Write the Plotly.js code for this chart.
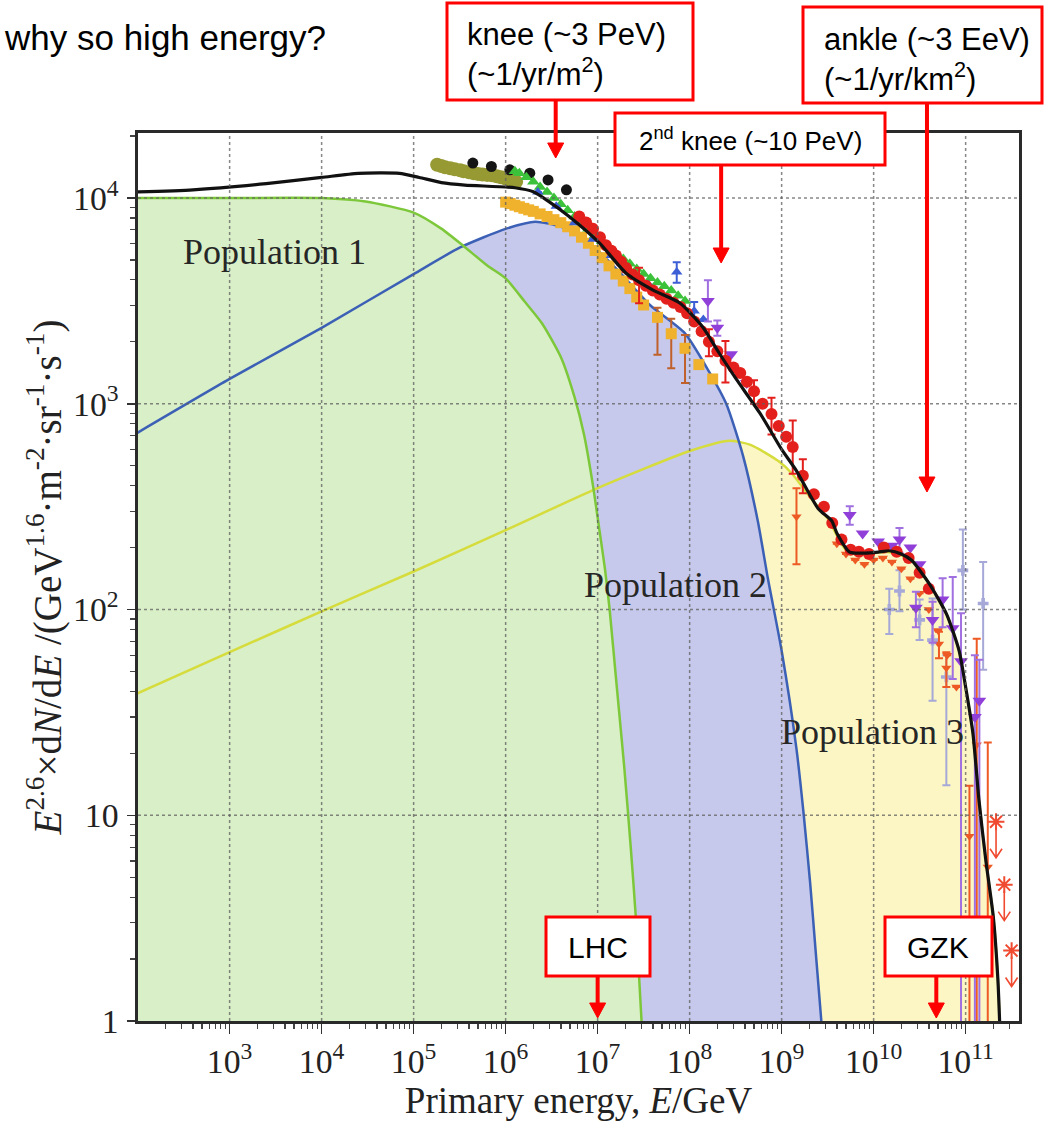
<!DOCTYPE html>
<html>
<head>
<meta charset="utf-8">
<script src="https://cdn.plot.ly/plotly-3.0.1.min.js"></script>
<style>html,body{margin:0;padding:0;background:#fff;}#chart{width:1048px;height:1123px;}</style>
</head>
<body>
<div id="chart"></div>
<script>
// ---------- model curves (E in GeV, flux = E^2.6 dN/dE) ----------
const pop1E = [98, 1e3, 1e4, 3e4, 1e5, 2e5, 3.4e5, 6.3e5, 1e6, 1.6e6, 2.5e6, 4e6, 5.6e6, 7.1e6, 8.9e6, 1.05e7, 1.2e7, 1.35e7, 1.6e7, 1.95e7, 2.3e7, 2.6e7, 3.0e7];
const pop1Y = [10000, 10000, 10000, 9620, 8500, 7100, 5900, 4700, 4070, 3150, 2450, 1680, 1080, 710, 400, 240, 158, 100, 44, 17, 6.8, 3.2, 1.0];

const pop2E = [98, 1e3, 1e4, 1e5, 3.2e5, 1e6, 2.1e6, 4e6, 7.4e6, 1.7e7, 3.7e7, 8.9e7, 1.6e8, 2.5e8, 3.8e8, 5.5e8, 7.1e8, 1e9, 1.45e9, 1.74e9, 2.04e9, 2.34e9, 2.7e9];
const pop2Y = [720, 1320, 2340, 4270, 5750, 7080, 7670, 7240, 6310, 4400, 3020, 2200, 1450, 1000, 560, 270, 141, 63, 21, 10, 4.7, 2.2, 1.0];

const pop3E = [98, 1e3, 1e4, 1e5, 1e6, 1e7, 1e8, 2.7e8, 4.6e8, 9.3e8, 1.3e9, 2e9, 3.2e9, 5e9, 8e9, 1.5e10, 2.6e10, 4e10, 6.2e10, 8.5e10, 1e11, 1.2e11, 1.4e11, 1.66e11, 2e11, 2.24e11, 2.34e11];
const pop3Y = [39, 62, 98, 153, 243, 389, 589, 661, 631, 525, 457, 355, 275, 195, 188, 190, 174, 134, 95, 63, 42, 25, 11.7, 6.0, 3.2, 1.6, 1.0];

const totalE = [98, 4e2, 2.5e3, 1e4, 2.5e4, 7e4, 1.15e5, 2e5, 3.6e5, 1.26e6, 2e6, 2.8e6, 4.9e6, 1.05e7, 2.04e7, 4e7, 7.8e7, 1.38e8, 2.1e8, 3.2e8, 5.9e8, 1e9, 1.45e9, 2.5e9, 3.5e9, 4e9, 5.5e9, 8e9, 1.12e10, 1.48e10, 2e10, 2.6e10, 4e10, 6.2e10, 8.5e10, 1e11, 1.2e11, 1.4e11, 1.66e11, 2e11, 2.24e11, 2.34e11];
const totalY = [10700, 10960, 11750, 12590, 13180, 13180, 12590, 11890, 11560, 11220, 10720, 9770, 8130, 6030, 4310, 3570, 3090, 2370, 1760, 1320, 890, 600, 472, 309, 270, 234, 190, 188, 190, 193, 186, 173, 134, 95, 63, 42, 25, 11.7, 6.0, 3.2, 1.6, 1.0];

// ---------- measurements ----------
const oliveE = [1.8e5, 2.0e5, 2.2e5, 2.5e5, 2.8e5, 3.2e5, 3.5e5, 4.0e5, 4.5e5, 5.0e5, 5.6e5, 6.3e5, 7.1e5, 8.0e5, 8.9e5, 1.0e6, 1.1e6, 1.2e6, 1.3e6];
const oliveY = [14500, 14300, 14100, 13950, 13800, 13650, 13500, 13350, 13200, 13100, 13000, 12950, 12900, 12750, 12600, 12450, 12300, 12150, 12000];

const blackE = [4.4e5, 7.0e5, 1.11e6, 1.83e6, 2.89e6, 4.58e6];
const blackY = [14790, 14230, 13710, 13210, 12250, 10960];

const greenE = [1.26e6, 1.41e6, 1.68e6, 2.0e6, 2.37e6, 2.82e6, 3.35e6, 3.98e6, 4.73e6, 5.62e6, 6.68e6, 7.94e6, 9.4e6, 1.12e7, 1.33e7, 1.58e7, 1.9e7, 2.24e7, 2.66e7, 3.16e7, 3.76e7, 4.47e7, 5.3e7, 6.31e7, 7.5e7, 8.91e7];
const greenY = [13500, 13200, 12600, 12000, 11300, 10700, 10000, 9330, 8710, 8130, 7600, 7080, 6600, 6170, 5750, 5370, 5060, 4790, 4520, 4270, 4070, 3890, 3720, 3550, 3350, 3160];

const orangeE = [1.0e6, 1.12e6, 1.26e6, 1.41e6, 1.58e6, 1.78e6, 2.0e6, 2.37e6, 2.82e6, 3.35e6, 3.98e6, 4.73e6, 5.62e6, 6.68e6, 7.94e6, 9.4e6, 1.12e7, 1.33e7, 1.58e7, 1.9e7, 2.24e7, 2.66e7, 3.16e7, 4.47e7, 6.31e7, 8.91e7, 1.26e8, 1.78e8];
const orangeY = [9550, 9400, 9230, 9070, 8910, 8760, 8610, 8370, 8130, 7850, 7590, 7250, 6920, 6450, 6030, 5560, 5130, 4680, 4270, 3950, 3630, 3300, 3020, 2630, 2190, 1860, 1550, 1320];
const orangeErrP = [0, 0, 0, 0, 0, 0, 0, 0, 0, 0, 0, 0, 0, 0, 0, 0, 0, 0, 0, 0, 0, 0, 0, 300, 400, 300, 0, 0];
const orangeErrM = [0, 0, 0, 0, 0, 0, 0, 0, 0, 0, 0, 0, 0, 0, 0, 0, 0, 0, 0, 0, 0, 0, 0, 900, 700, 600, 0, 0];

const redE = [6.31e6, 7.5e6, 8.91e6, 1.06e7, 1.23e7, 1.41e7, 1.58e7, 1.8e7, 2.04e7, 2.4e7, 2.82e7, 3.35e7, 3.98e7, 4.73e7, 5.62e7, 6.68e7, 7.94e7, 9.4e7, 1.12e8, 1.35e8, 1.62e8, 2.0e8, 2.45e8, 3.0e8, 3.55e8, 4.2e8, 5.01e8, 6.2e8, 7.76e8, 9.3e8, 1.12e9, 1.32e9, 1.7e9, 2.24e9, 2.88e9, 3.55e9, 4.47e9, 5.62e9, 6.92e9, 8.91e9, 1.29e10, 1.78e10, 2.4e10, 3.16e10, 3.98e10];
const redY = [8130, 7600, 7080, 6450, 5890, 5550, 5250, 4900, 4570, 4250, 3980, 3750, 3550, 3400, 3240, 3100, 2950, 2750, 2510, 2250, 2000, 1800, 1620, 1500, 1410, 1280, 1150, 1000, 891, 780, 692, 617, 447, 363, 316, 263, 219, 195, 191, 186, 200, 191, 178, 151, 126];
const redErrP = [0, 0, 0, 0, 0, 0, 0, 0, 0, 0, 600, 0, 0, 0, 0, 0, 0, 0, 0, 0, 300, 0, 400, 0, 0, 0, 150, 0, 180, 0, 0, 213, 90, 0, 0, 0, 0, 0, 0, 0, 0, 0, 0, 0, 0];
const redErrM = [0, 0, 0, 0, 0, 0, 0, 0, 0, 0, 900, 0, 0, 0, 0, 0, 0, 0, 0, 0, 300, 0, 350, 0, 0, 0, 150, 0, 183, 0, 0, 160, 80, 0, 0, 0, 0, 0, 0, 0, 0, 0, 0, 0, 0];

const purpleE = [1.58e8, 2.0e8, 2.82e8, 4.17e8, 5.5e9, 7.59e9, 1.12e10, 1.58e10, 1.91e10, 2.51e10, 3.16e10, 2.88e10, 4.37e10, 5.62e10, 7.24e10, 8.91e10, 1.26e11, 1.41e11];
const purpleY = [3160, 2340, 1740, 1260, 288, 234, 214, 204, 219, 200, 166, 102, 89, 112, 81, 56, 30, 36];
const purpleErrP = [820, 200, 0, 0, 30, 0, 0, 0, 30, 0, 0, 20, 20, 30, 63, 40, 30, 21];
const purpleErrM = [650, 200, 0, 0, 30, 0, 0, 0, 30, 0, 0, 20, 20, 30, 35, 55.5, 29.5, 35.5];

const lilacE = [1.48e10, 1.91e10, 3.16e10, 4.37e10, 6.17e10, 9.33e10, 1.55e11];
const lilacY = [100, 123, 89, 71, 47, 155, 107];
const lilacErrP = [26, 32, 23, 42, 13, 90, 63];
const lilacErrM = [24, 25, 18, 35, 33, 55, 56];

const blueE = [2.24e6, 3.55e6, 5.62e6, 8.91e6, 1.41e7, 2.24e7, 3.55e7, 7.24e7, 1.12e8, 1.41e8];
const blueY = [10700, 9120, 7590, 6310, 5250, 4370, 3800, 4370, 2820, 2570];
const blueErrP = [0, 0, 0, 0, 0, 0, 0, 500, 300, 0];
const blueErrM = [0, 0, 0, 0, 0, 0, 0, 500, 300, 0];

const ankleE = [1.45e9, 3.98e9, 5.01e9, 6.31e9, 7.94e9, 1e10, 1.26e10, 1.58e10, 2e10, 2.51e10, 3.16e10, 3.98e10, 5.01e10, 5.13e10, 6.17e10, 6.31e10, 7.94e10, 1.1e11, 1.32e11, 1.74e11];
const ankleY = [282, 209, 186, 174, 166, 174, 178, 170, 158, 141, 120, 100, 79, 68, 52, 60, 42, 7.9, 22, 5.6];
const ankleErrP = [107, 0, 0, 0, 0, 0, 0, 0, 0, 0, 0, 0, 0, 10, 10, 0, 0, 6, 50, 17];
const ankleErrM = [116, 0, 0, 0, 0, 0, 0, 0, 0, 0, 0, 0, 0, 10, 10, 0, 0, 7.4, 21.5, 5.1];

const limitE = [2.14e11, 2.63e11, 3.16e11];
const limitY = [9.3, 4.6, 2.2];

// ---------- axes / labels ----------
const xDecades = [1e3, 1e4, 1e5, 1e6, 1e7, 1e8, 1e9, 1e10, 1e11];
const yDecades = [10, 100, 1000, 10000];
const popLabels = ['Population 1', 'Population 2', 'Population 3'];
const popLabelE = [3.1e3, 7.0e7, 9.8e9];
const popLabelY = [5470, 132, 25.4];

const arrowNames = ['knee', '2nd knee', 'ankle', 'LHC', 'GZK'];
const arrowE = [3.5e6, 2.2e8, 3.8e10, 1e7, 4.8e10];

// ---------- geometry helpers (pixel -> paper) ----------
const L = 138, T = 133, W = 881, H = 888;
const pxX = x => (x - L) / W;
const pxY = y => (T + H - y) / H;

const serif = 'Liberation Serif, Times New Roman, serif';
const sans = 'Liberation Sans, Arial, sans-serif';

function fillTrace(E, Y, color) {
  return {x: E, y: Y, type: 'scatter', mode: 'none', fill: 'tozeroy', fillcolor: color, hoverinfo: 'skip'};
}
function lineTrace(E, Y, color, w) {
  return {x: E, y: Y, type: 'scatter', mode: 'lines', line: {color: color, width: w, shape: 'spline', smoothing: 0.6}, hoverinfo: 'skip'};
}
function ptTrace(E, Y, color, symbol, size, errP, errM, errColor) {
  const t = {x: E, y: Y, type: 'scatter', mode: 'markers',
    marker: {color: color, symbol: symbol, size: size, line: {width: 0}}};
  if (errP) {
    t.error_y = {type: 'data', symmetric: false, array: errP, arrayminus: errM,
      color: errColor || color, thickness: 2, width: 4};
  }
  return t;
}

const traces = [
  fillTrace(pop3E, pop3Y, '#fbf6c4'),
  fillTrace(pop2E, pop2Y, '#c6c9eb'),
  fillTrace(pop1E, pop1Y, '#d9efc7'),
  lineTrace(pop3E, pop3Y, '#d5dc3c', 2.5),
  lineTrace(pop2E, pop2Y, '#3b60b6', 2.5),
  lineTrace(pop1E, pop1Y, '#7cc83a', 2.5),
  ptTrace(oliveE, oliveY, '#979a33', 'circle', 14),
  ptTrace(blackE, blackY, '#151515', 'circle', 11),
  ptTrace(orangeE, orangeY, '#f0b22c', 'square', 11, orangeErrP, orangeErrM, '#c0602a'),
  ptTrace(greenE, greenY, '#3cc23a', 'triangle-up', 11),
  ptTrace(blueE, blueY, '#3d5fd6', 'triangle-up', 10, blueErrP, blueErrM),
  ptTrace(lilacE, lilacY, '#a6a8d8', 'cross', 9, lilacErrP, lilacErrM),
  ptTrace(ankleE, ankleY, '#ee5a24', 'triangle-down', 9, ankleErrP, ankleErrM),
  ptTrace(purpleE, purpleY, '#9040d8', 'triangle-down', 12, purpleErrP, purpleErrM, '#a070e0'),
  ptTrace(redE, redY, '#e3201c', 'circle', 12, redErrP, redErrM),
  {x: limitE, y: limitY, type: 'scatter', mode: 'markers',
   marker: {symbol: 'asterisk-open', size: 14, color: '#f04a30', line: {color: '#f04a30', width: 2}}},
  lineTrace(totalE, totalY, '#111111', 3.2)
];

const shapes = [];
const gridLine = {color: 'rgba(95,95,95,0.75)', width: 1.5, dash: 'dot'};
xDecades.forEach(v => shapes.push({type: 'line', xref: 'x', yref: 'paper', x0: v, x1: v, y0: 0, y1: 1, line: gridLine, layer: 'above'}));
yDecades.forEach(v => shapes.push({type: 'line', xref: 'paper', yref: 'y', x0: 0, x1: 1, y0: v, y1: v, line: gridLine, layer: 'above'}));

// callout boxes (pixel rectangles: left, top, right, bottom)
const boxes = [[447, 3, 693, 100], [803, 7, 1042, 103], [615, 113, 885, 165], [546, 917, 650, 976], [885, 917, 992, 976]];
boxes.forEach(b => shapes.push({type: 'rect', xref: 'paper', yref: 'paper',
  x0: pxX(b[0]), x1: pxX(b[2]), y0: pxY(b[3]), y1: pxY(b[1]),
  line: {color: '#ff0000', width: 3}, fillcolor: '#ffffff', layer: 'above'}));

// red arrows: shaft from box bottom to tip, filled head (pixel rows: tip, tail)
const arrowPix = [[158, 100], [263, 165], [492, 103], [1018, 976], [1018, 976]];
arrowE.forEach((e, i) => {
  const tip = arrowPix[i][0], tail = arrowPix[i][1];
  shapes.push({type: 'line', xref: 'x', yref: 'paper', x0: e, x1: e, y0: pxY(tail), y1: pxY(tip - 8),
    line: {color: '#ff0000', width: 4}, layer: 'above'});
  shapes.push({type: 'path', xref: 'x', xsizemode: 'pixel', xanchor: e, yref: 'paper', ysizemode: 'pixel', yanchor: pxY(tip),
    path: 'M-8,15 L8,15 L0,0 Z', fillcolor: '#ff0000', line: {color: '#ff0000', width: 1}, layer: 'above'});
});

// upper-limit arrows below the asterisks
limitE.forEach((e, i) => {
  shapes.push({type: 'path', xref: 'x', xsizemode: 'pixel', xanchor: e, yref: 'y', ysizemode: 'pixel', yanchor: limitY[i],
    path: 'M0,-6 L0,-36 M-6,-27 L0,-36 L6,-27', line: {color: '#f04a30', width: 1.6}, layer: 'above'});
});

const annotations = [];
popLabels.forEach((t, i) => annotations.push({x: Math.log10(popLabelE[i]), y: Math.log10(popLabelY[i]), xref: 'x', yref: 'y',
  text: t, showarrow: false, font: {family: serif, size: 36, color: '#262626'}}));

annotations.push({xref: 'paper', yref: 'paper', x: pxX(465), y: pxY(54), xanchor: 'left', yanchor: 'middle', align: 'left',
  text: 'knee (~3 PeV)<br>(~1/yr/m<sup>2</sup>)', showarrow: false, font: {family: sans, size: 31, color: '#000'}});
annotations.push({xref: 'paper', yref: 'paper', x: pxX(822), y: pxY(59), xanchor: 'left', yanchor: 'middle', align: 'left',
  text: 'ankle (~3 EeV)<br>(~1/yr/km<sup>2</sup>)', showarrow: false, font: {family: sans, size: 31, color: '#000'}});
annotations.push({xref: 'paper', yref: 'paper', x: pxX(750), y: pxY(139), xanchor: 'center', yanchor: 'middle',
  text: '2<sup>nd</sup> knee (~10 PeV)', showarrow: false, font: {family: sans, size: 26, color: '#000'}});
annotations.push({xref: 'paper', yref: 'paper', x: pxX(598), y: pxY(947), xanchor: 'center', yanchor: 'middle',
  text: 'LHC', showarrow: false, font: {family: sans, size: 30, color: '#000'}});
annotations.push({xref: 'paper', yref: 'paper', x: pxX(938), y: pxY(947), xanchor: 'center', yanchor: 'middle',
  text: 'GZK', showarrow: false, font: {family: sans, size: 30, color: '#000'}});
annotations.push({xref: 'paper', yref: 'paper', x: pxX(328), y: pxY(37), xanchor: 'right', yanchor: 'middle',
  text: 'why so high energy?', showarrow: false, font: {family: sans, size: 35, color: '#000'}});

const axisCommon = {
  type: 'log', dtick: 1, exponentformat: 'power', showgrid: false, zeroline: false,
  ticks: 'outside', tickwidth: 1.5, tickcolor: '#333',
  showline: true, linewidth: 3, linecolor: '#2a2a2a', mirror: true,
  tickfont: {family: serif, size: 27, color: '#222'},
  minor: {ticks: 'outside', ticklen: 5, tickwidth: 1.2, tickcolor: '#444', dtick: 'D1', showgrid: false}
};

const layout = {
  width: 1048, height: 1123,
  margin: {l: L, r: 1048 - L - W, t: T, b: 1123 - T - H, pad: 0},
  paper_bgcolor: '#ffffff', plot_bgcolor: '#ffffff',
  showlegend: false,
  font: {family: serif, color: '#222'},
  xaxis: Object.assign({}, axisCommon, {range: [2.004, 11.58], ticklen: 10,
    title: {text: 'Primary energy, <i>E</i>/GeV', font: {family: serif, size: 37, color: '#222'}, standoff: 6}}),
  yaxis: Object.assign({}, axisCommon, {range: [0, 4.316], ticklen: 8, ticklabelstandoff: 3,
    title: {text: '<i>E</i><sup>2.6</sup>×d<i>N</i>/d<i>E</i> /(GeV<sup>1.6</sup>·m<sup>-2</sup>·sr<sup>-1</sup>·s<sup>-1</sup>)',
      font: {family: serif, size: 39, color: '#222'}, standoff: 0}}),
  shapes: shapes,
  annotations: annotations
};

Plotly.newPlot('chart', traces, layout, {staticPlot: true, displayModeBar: false});
</script>
</body>
</html>
